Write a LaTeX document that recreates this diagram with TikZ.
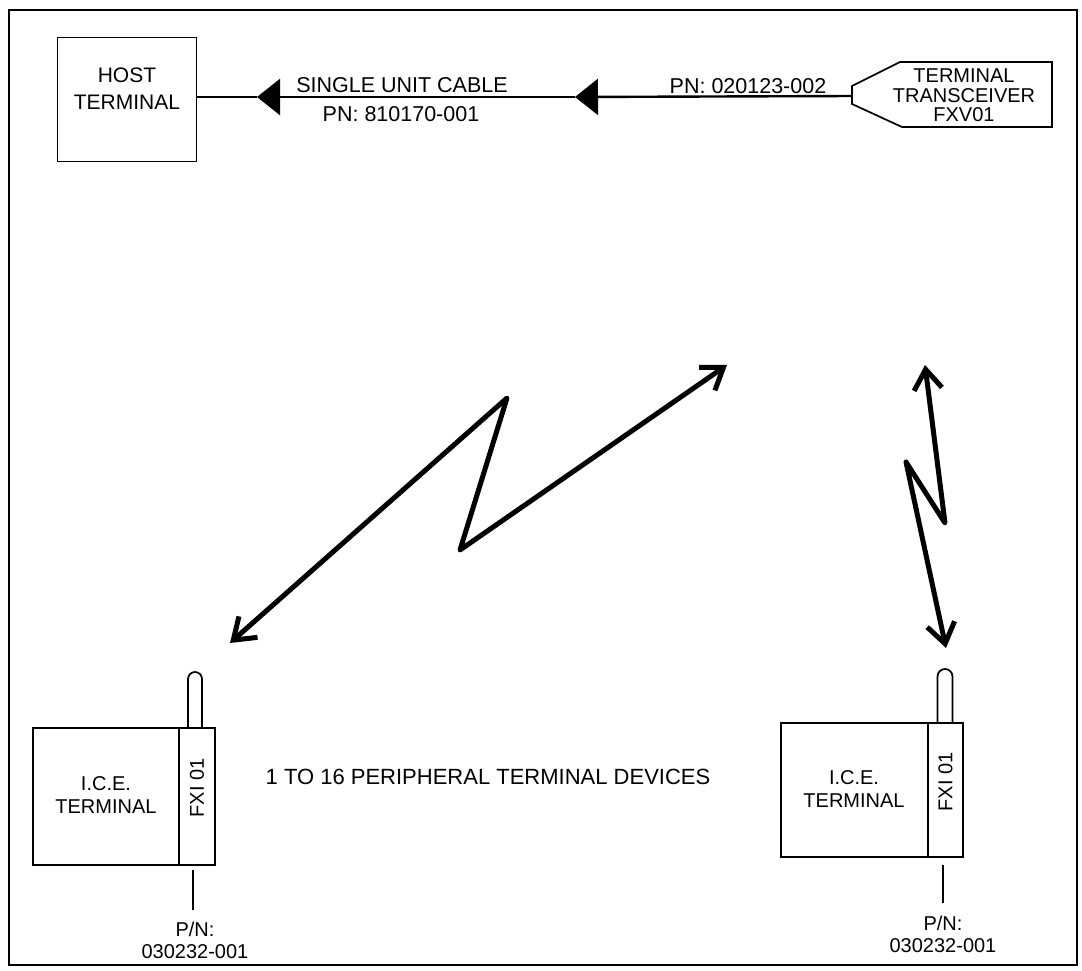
\documentclass[tikz,border=0pt]{standalone}
\usepackage{fontspec}
\setmainfont{Liberation Sans}
\usetikzlibrary{arrows.meta}
\begin{document}
\begin{tikzpicture}[x=1pt,y=-1pt,
  frame/.style={draw, line width=1.6pt},
  boxline/.style={draw, line width=1.7pt},
  lbl/.style={font=\fontsize{21.5}{24}\selectfont, inner sep=0pt},
  dev/.style={font=\fontsize{20}{23}\selectfont, inner sep=0pt, align=center},
  cable/.style={line width=2.4pt},
  cabletip/.style={-{Triangle[length=23pt,width=36pt]}},
  bolt/.style={line width=5pt, line join=round, line cap=round,
    {Straight Barb[length=20pt,width=28pt]}-{Straight Barb[length=20pt,width=28pt]}},
  pnline/.style={line width=1.4pt},
]
\useasboundingbox (0,0) rectangle (1082,971);
\path[fill=white] (0,0) rectangle (1082,971);
% frame
\draw[frame] (9,10) rectangle (1077,965);

% host terminal
\node[boxline, minimum width=139pt, minimum height=124pt, inner sep=0pt] (host) at (127,99.5) {};
\node[dev, font=\fontsize{21}{27}\selectfont] (hosttxt) at (127,89) {HOST\\TERMINAL};

% transceiver
\draw[boxline] (852,86) -- (900,62) -- (1052,62) -- (1052,127) -- (902,127) -- (852,104) -- cycle;
\coordinate (tw) at (852,96);
\node[lbl, align=center, font=\fontsize{20}{19.5}\selectfont] (trans) at (964,95.5) {TERMINAL\\TRANSCEIVER\\FXV01};

% cable
\coordinate (a2) at (575,97);
\coordinate (a1) at (257,97);
\draw[cable, cabletip] (tw) -- (a2);
\draw[cable, cabletip] (a2) -- (a1);
\draw[line width=1.6pt] (a1) -- (host.east |- a1);
\node[lbl] (l1) at (402,85) {SINGLE UNIT CABLE};
\node[lbl] (l2) at (401,114) {PN: 810170-001};
\node[lbl] (l3) at (748,86) {PN: 020123-002};

% left device
\node[boxline, minimum width=146pt, minimum height=137pt, inner sep=0pt] (ice1) at (106,796.5) {};
\node[boxline, minimum width=36pt, minimum height=137pt, inner sep=0pt] (fxi1) at (197,796.5) {};
\node[dev] (ice1txt) at (106,795) {I.C.E.\\TERMINAL};
\node[dev, rotate=90] (fxi1txt) at (197,788) {FXI 01};
\draw[boxline] (188,728) -- (188,679) arc[start angle=180, end angle=360, radius=7] -- (202,728);
\coordinate (p1a) at (193,870);
\coordinate (p1b) at (193,910);
\draw[pnline] (p1a) -- (p1b);
\node[dev, font=\fontsize{20}{22}\selectfont] (pn1) at (195,940) {P/N:\\030232-001};

% right device
\node[boxline, minimum width=147pt, minimum height=134pt, inner sep=0pt] (ice2) at (854.5,790) {};
\node[boxline, minimum width=35pt, minimum height=134pt, inner sep=0pt] (fxi2) at (945.5,790) {};
\node[dev] (ice2txt) at (854,789) {I.C.E.\\TERMINAL};
\node[dev, rotate=90] (fxi2txt) at (945.5,782) {FXI 01};
\draw[boxline] (937.5,723) -- (937.5,676.5) arc[start angle=180, end angle=360, radius=7.5] -- (952.5,723);
\coordinate (p2a) at (943,865);
\coordinate (p2b) at (943,903);
\draw[pnline] (p2a) -- (p2b);
\node[dev, font=\fontsize{20}{22}\selectfont] (pn2) at (943,934) {P/N:\\030232-001};

% middle label
\node[lbl, font=\fontsize{22}{24}\selectfont] (periph) at (488,777) {1 TO 16 PERIPHERAL TERMINAL DEVICES};

% lightning bolts
\coordinate (b1s) at (230,643);
\coordinate (b1a) at (507,398);
\coordinate (b1b) at (460,550);
\coordinate (b1e) at (727,365);
\draw[bolt] (b1s) -- (b1a) -- (b1b) -- (b1e);

\coordinate (b2s) at (925,365);
\coordinate (b2a) at (945,523);
\coordinate (b2b) at (906,462);
\coordinate (b2e) at (946,648);
\draw[bolt] (b2s) -- (b2a) -- (b2b) -- (b2e);
\end{tikzpicture}
\end{document}
